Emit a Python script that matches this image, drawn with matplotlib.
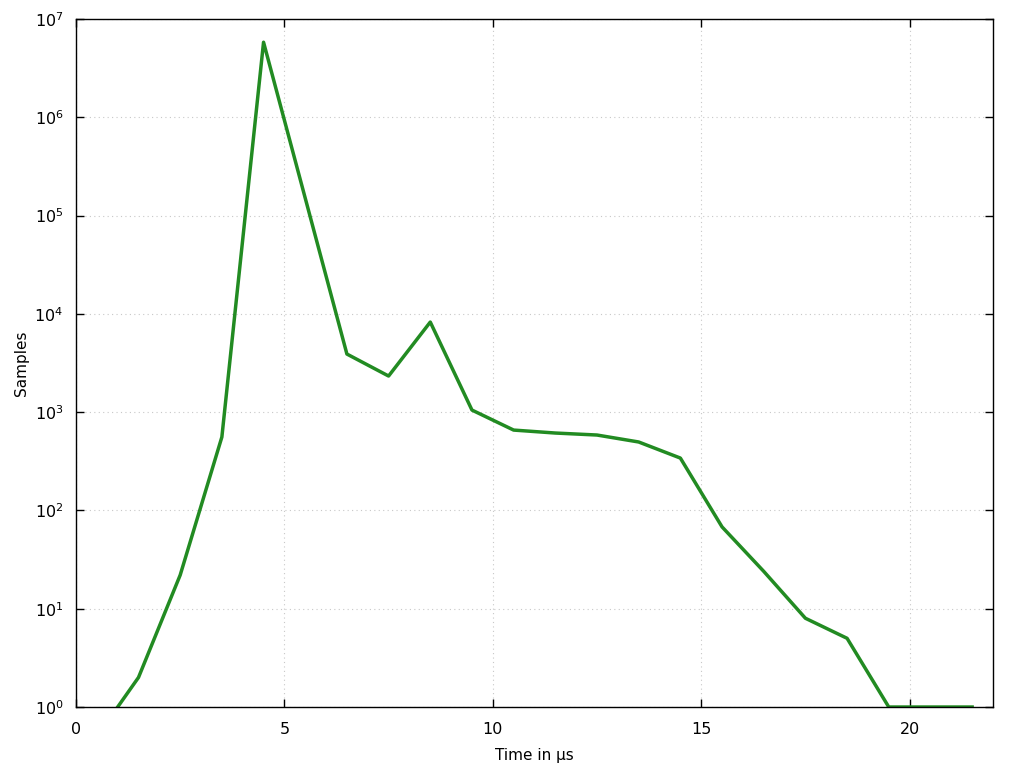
import matplotlib
matplotlib.use("Agg")
import matplotlib.pyplot as plt
from matplotlib.ticker import LogLocator, NullLocator, MultipleLocator

# histogram of sample latencies
time_us = [1.0, 1.5, 2.5, 3.5, 4.5, 6.5, 7.5, 8.5, 9.5, 10.5, 11.5, 12.5,
           13.5, 14.5, 15.5, 16.5, 17.5, 18.5, 19.5, 20.5, 21.5]
samples = [1, 2, 22, 558, 5.8e6, 3900, 2330, 8250, 1050, 657, 613, 585,
           497, 341, 68, 24, 8, 5, 1, 1, 1]

fig = plt.figure(figsize=(10.24, 7.68), dpi=100)
ax = fig.add_axes([0.0742, 0.0794, 0.8955, 0.8959])

ax.plot(time_us, samples, color="#228b22", linewidth=2.5)

ax.set_yscale("log")
ax.set_xlim(0, 22)
ax.set_ylim(1, 1e7)
ax.xaxis.set_major_locator(MultipleLocator(5))
ax.yaxis.set_major_locator(LogLocator(base=10, numticks=10))
ax.yaxis.set_minor_locator(NullLocator())
ax.xaxis.set_minor_locator(NullLocator())

ax.grid(True, color="#c8c8c8", linestyle=(0, (1, 3)), linewidth=0.8)
ax.tick_params(direction="in", top=True, right=True, length=6, width=1,
               labelsize=11.5)
ax.tick_params(axis="x", pad=11)
ax.tick_params(axis="y", pad=9)
for s in ax.spines.values():
    s.set_linewidth(1)

ax.set_xlabel("Time in µs", fontsize=11, labelpad=8)
ax.set_ylabel("Samples", fontsize=11, labelpad=4)

fig.savefig("out.png", dpi=100)
